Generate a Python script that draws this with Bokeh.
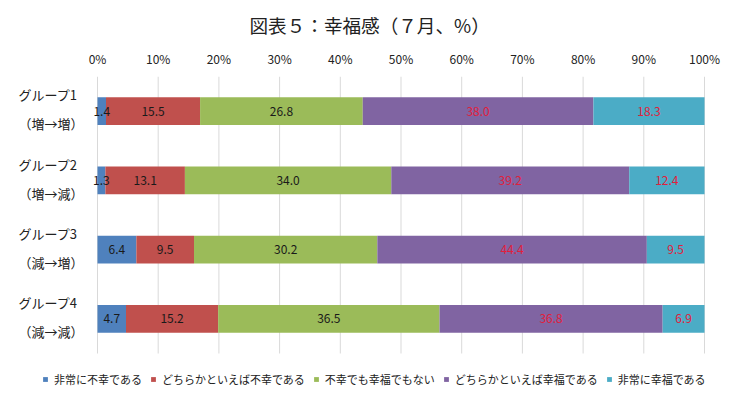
from bokeh.plotting import figure
from bokeh.models import (ColumnDataSource, Range1d, Legend, LegendItem,
                          LinearAxis, FixedTicker, CustomJSTickFormatter)
from bokeh.core.properties import value
from bokeh.embed import file_html
from bokeh.resources import INLINE

FONT = "Noto Sans CJK JP"

groups = ["グループ1", "グループ2", "グループ3", "グループ4"]
subtitles = ["（増→増）", "（増→減）", "（減→増）", "（減→減）"]
series = ["非常に不幸である", "どちらかといえば不幸である", "不幸でも幸福でもない",
          "どちらかといえば幸福である", "非常に幸福である"]
very_unhappy = [1.4, 1.3, 6.4, 4.7]
somewhat_unhappy = [15.5, 13.1, 9.5, 15.2]
neither = [26.8, 34.0, 30.2, 36.5]
somewhat_happy = [38.0, 39.2, 44.4, 36.8]
very_happy = [18.3, 12.4, 9.5, 6.9]
x_ticks = [0, 10, 20, 30, 40, 50, 60, 70, 80, 90, 100]

values = [very_unhappy, somewhat_unhappy, neither, somewhat_happy, very_happy]
colors = ["#4F81BD", "#C0504D", "#9BBB59", "#8064A2", "#4BACC6"]
label_colors = ["#1a1a1a", "#1a1a1a", "#1a1a1a", "#E0203C", "#E0203C"]

n = len(groups)
ypos = [n - 1 - i for i in range(n)]           # first group on top
totals = [sum(v[i] for v in values) for i in range(n)]

# layout geometry (pixels)
W, TOP, FRAME_H = 728, 76, 316
X0_PX, PX_PER_PCT = 97, 6.07          # where 0% sits, pixels per percent
BAND_PX = 69.25                        # height of one category band
x_range = Range1d(-X0_PX / PX_PER_PCT, (W - X0_PX) / PX_PER_PCT)
y_range = Range1d(-0.5 - (FRAME_H - n * BAND_PX) / BAND_PX, n - 0.5)

p = figure(frame_width=W, frame_height=FRAME_H, output_backend="svg",
           toolbar_location=None, x_range=x_range, y_range=y_range,
           x_axis_location=None, y_axis_location=None,
           min_border_left=0, min_border_right=0, min_border_top=TOP,
           min_border_bottom=0)

p.title.text = "図表５：幸福感（７月、%）"
p.title.align = "left"
p.title.offset = 249
p.title.text_font = FONT
p.title.text_font_size = "18.6px"
p.title.text_font_style = "normal"
p.title.text_color = "#222222"
p.title.standoff = 17

xaxis = LinearAxis(ticker=FixedTicker(ticks=x_ticks),
                   formatter=CustomJSTickFormatter(code="return tick + '%';"))
xaxis.axis_line_color = None
xaxis.major_tick_line_color = None
xaxis.minor_tick_line_color = None
xaxis.major_label_text_font = FONT
xaxis.major_label_text_font_size = "12px"
xaxis.major_label_text_color = "#222222"
xaxis.major_label_standoff = 4
p.add_layout(xaxis, "above")

p.grid.visible = False
p.outline_line_color = None

# vertical gridlines limited to the bar area
p.segment(x0=x_ticks, x1=x_ticks, y0=[-0.5] * len(x_ticks), y1=[n - 0.5] * len(x_ticks),
          line_color="#D9D9D9", line_width=1)

# category labels (two lines each)
label_x = (18 - X0_PX) / PX_PER_PCT
cat_src = ColumnDataSource(dict(
    x=[label_x] * (2 * n),
    y=[y + 0.235 for y in ypos] + [y - 0.185 for y in ypos],
    t=groups + subtitles))
p.text(x="x", y="y", text="t", source=cat_src, text_align="left",
       text_baseline="middle", text_font=value(FONT), text_font_size="13px",
       text_color="#222222")

sources = []
renderers = []
cum = [0.0] * n
for name, vals, col in zip(series, values, colors):
    left = [cum[i] / totals[i] * 100 for i in range(n)]
    right = [(cum[i] + vals[i]) / totals[i] * 100 for i in range(n)]
    cum = [cum[i] + vals[i] for i in range(n)]
    src = ColumnDataSource(dict(y=ypos, left=left, right=right,
                                center=[(l + r) / 2 for l, r in zip(left, right)],
                                label=["%.1f" % v for v in vals]))
    sources.append(src)
    renderers.append(p.hbar(y="y", left="left", right="right", height=0.4, source=src,
                            fill_color=col, line_color=None))

for src, lcol in zip(sources, label_colors):
    p.text(x="center", y="y", text="label", source=src, text_align="center",
           text_baseline="middle", text_font=value(FONT), text_font_size="12px",
           text_color=lcol)

items = [LegendItem(label=name, renderers=[r]) for name, r in zip(series, renderers)]
legend = Legend(items=items, orientation="horizontal", location=(42, 5))
legend.label_text_font = FONT
legend.label_text_font_size = "11px"
legend.label_text_color = "#222222"
legend.label_height = 14
legend.glyph_width = 6
legend.glyph_height = 6
legend.label_standoff = 6
legend.spacing = 8
legend.padding = 0
legend.margin = 0
legend.border_line_color = None
legend.background_fill_alpha = 0
p.add_layout(legend)

open("out.html", "w").write(file_html(p, INLINE))
